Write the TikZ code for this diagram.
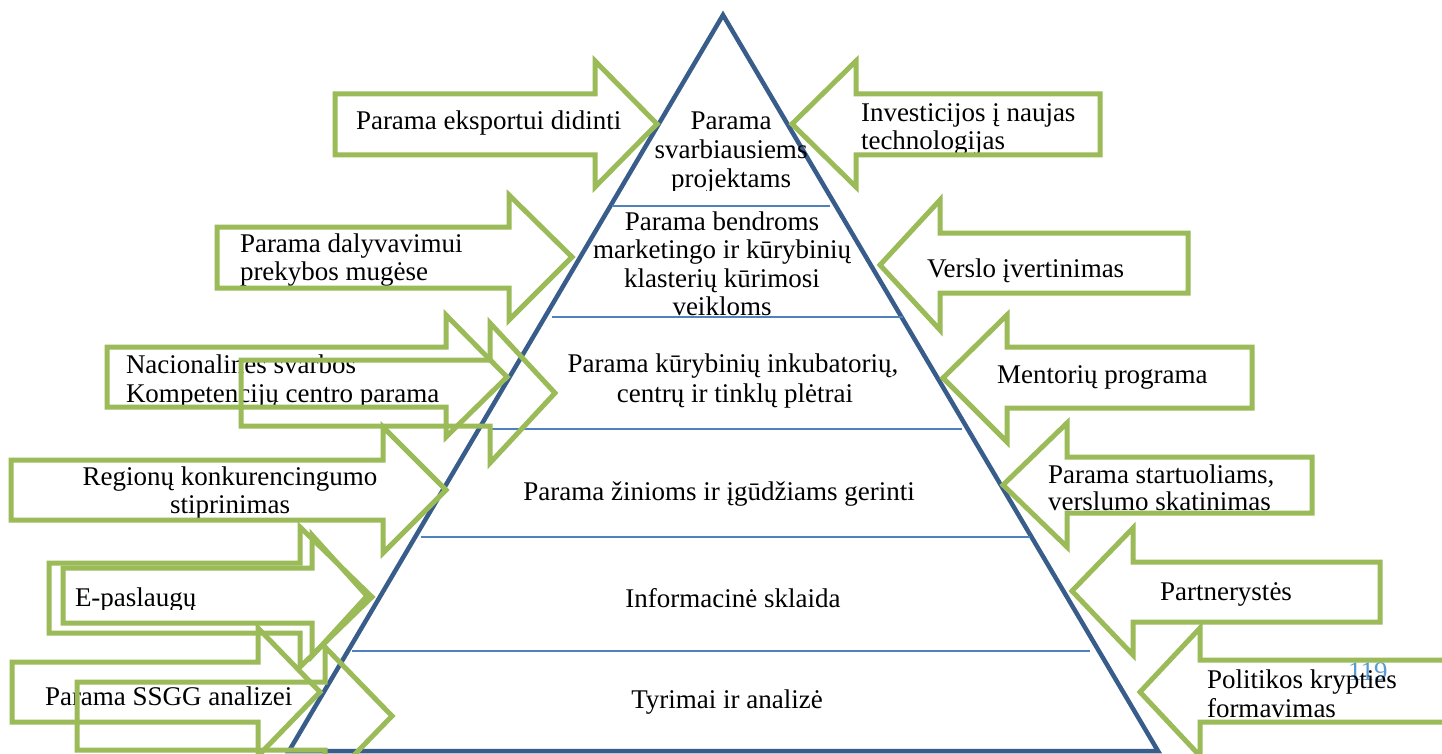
\documentclass[tikz,border=0pt]{standalone}
\usepackage{fontspec}
\setmainfont{Liberation Serif}
\definecolor{grn}{HTML}{9BBB59}
\definecolor{pyr}{HTML}{385D8A}
\definecolor{sep}{HTML}{4F81BD}
\definecolor{pgnum}{HTML}{5B9BD5}
\tikzset{
  garrow/.style={draw=grn, line width=5pt, line join=miter},
  pyrline/.style={draw=pyr, line width=4.5pt, line join=miter},
  sepline/.style={draw=sep, line width=2pt},
  lbl/.style={inner sep=0pt, outer sep=0pt, font=\fontsize{27}{29}\selectfont, text=black},
  lw/.style={lbl, anchor=base west},
  lc/.style={lbl, anchor=base},
}
% polygon of a block arrow: body end x, body top, body bottom, head base x, head top, head bottom, tip x, tip y
\newcommand\BlockArrow[8]{\draw[garrow] (#1,#2) -- (#4,#2) -- (#4,#5) -- (#7,#8) -- (#4,#6) -- (#4,#3) -- (#1,#3) -- cycle;}
\begin{document}
\begin{tikzpicture}[x=1pt,y=-1pt]
\useasboundingbox (0,0) rectangle (1442,754);
\fill[white] (0,0) rectangle (1442,754);

% pyramid
\coordinate (apex) at (723,15);
\coordinate (bl) at (289,751);
\coordinate (br) at (1158,751);
\draw[pyrline] (apex) -- (br) -- (bl) -- cycle;

% separators
\coordinate (s1a) at (612,206); \coordinate (s1b) at (830,206);
\coordinate (s2a) at (552,317); \coordinate (s2b) at (903,317);
\coordinate (s3a) at (490,429); \coordinate (s3b) at (962,429);
\coordinate (s4a) at (421,537); \coordinate (s4b) at (1030,537);
\coordinate (s5a) at (352,651); \coordinate (s5b) at (1090,651);
\draw[sepline] (s1a) -- (s1b);
\draw[sepline] (s2a) -- (s2b);
\draw[sepline] (s3a) -- (s3b);
\draw[sepline] (s4a) -- (s4b);
\draw[sepline] (s5a) -- (s5b);

% pyramid texts
\node[lc] (p1a) at (731,130) {Parama};
\node[lc] (p1b) at (731,159) {svarbiausiems};
\begin{scope}
  \clip (600,165) rectangle (860,191);
  \node[lc] (p1c) at (731,188) {projektams};
\end{scope}
\node[lc] (p2a) at (722,230) {Parama bendroms};
\node[lc] (p2b) at (722,258.5) {marketingo ir kūrybinių};
\node[lc] (p2c) at (722,287) {klasterių kūrimosi};
\node[lc] (p2d) at (722,315.5) {veikloms};
\node[lc] (p3a) at (733,372) {Parama kūrybinių inkubatorių,};
\node[lc] (p3b) at (735,402) {centrų ir tinklų plėtrai};
\node[lc] (p4) at (719,500) {Parama žinioms ir įgūdžiams gerinti};
\node[lc] (p5) at (733,607) {Informacinė sklaida};
\node[lc] (p6) at (727,708) {Tyrimai ir analizė};

% page number
\node[lbl, anchor=base west, text=pgnum] (pg) at (1348,680) {119};

% side texts
\node[lw] (t1) at (356,130) {Parama eksportui didinti};
\node[lw] (t2a) at (861,122) {Investicijos į naujas};
\begin{scope}
  \clip (850,128) rectangle (1100,153);
  \node[lw] (t2b) at (861,150) {technologijas};
\end{scope}
\node[lw] (t3a) at (240,252) {Parama dalyvavimui};
\node[lw] (t3b) at (240,280) {prekybos mugėse};
\node[lw] (t4) at (927,277) {Verslo įvertinimas};
\node[lw] (t5a) at (126,373) {Nacionalines svarbos};
\node[lw] (t5b) at (126,402) {Kompetencijų centro parama};
\node[lw] (t6) at (997,383) {Mentorių programa};
\node[lc] (t7a) at (230,485) {Regionų konkurencingumo};
\begin{scope}
  \clip (100,490) rectangle (360,518);
  \node[lc] (t7b) at (230,513) {stiprinimas};
\end{scope}
\node[lw] (t8a) at (1048,483) {Parama startuoliams,};
\node[lw] (t8b) at (1048,510) {verslumo skatinimas};
\begin{scope}
  \clip (60,580) rectangle (300,609);
  \node[lw] (t9) at (75,606) {E-paslaugų};
\end{scope}
\node[lw] (t10) at (1160,600) {Partnerystės};
\node[lw] (t11) at (45,705) {Parama SSGG analizei};
\node[lw] (t12a) at (1207,688) {Politikos krypties};
\node[lw] (t12b) at (1207,717) {formavimas};

% arrows pointing right (left side)
\BlockArrow{335}{94}{155}{595}{61}{187}{657}{124}
\BlockArrow{217}{227}{288}{509}{195}{320}{572}{257}
\BlockArrow{107}{347}{407}{446}{315}{437}{507}{377}
\BlockArrow{241}{360}{426}{490}{323}{463}{555}{393}
\BlockArrow{11}{460}{520}{383}{427}{553}{446}{490}
\BlockArrow{49}{563}{633}{300}{527}{667}{372}{597}
\BlockArrow{63}{568}{623}{312}{535}{656}{367}{596}
\BlockArrow{12}{662}{722}{258}{628}{756}{320}{692}
\BlockArrow{77}{682}{750}{325}{647}{785}{392}{716}

% arrows pointing left (right side)
\BlockArrow{1100}{94}{155}{856}{61}{187}{792}{124}
\BlockArrow{1188}{233}{293}{940}{200}{330}{880}{265}
\BlockArrow{1252}{347}{408}{1007}{315}{442}{943}{378}
\BlockArrow{1312}{457}{513}{1067}{423}{547}{1003}{485}
\BlockArrow{1380}{562}{622}{1133}{528}{655}{1072}{591}
\BlockArrow{1470}{660}{722}{1200}{628}{756}{1140}{692}
\end{tikzpicture}
\end{document}
